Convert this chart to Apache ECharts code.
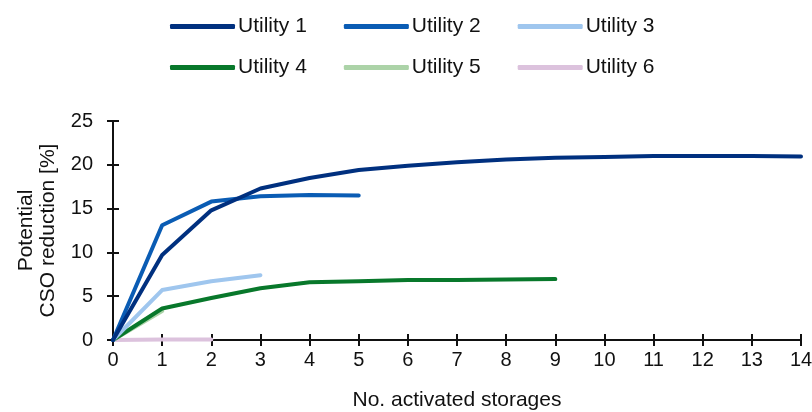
<!DOCTYPE html>
<html><head><meta charset="utf-8">
<script src="https://cdn.jsdelivr.net/npm/echarts@6/dist/echarts.min.js"></script>
<style>html,body{margin:0;padding:0;background:#fff}#c{width:812px;height:412px}</style>
</head><body><div id="c"></div>
<script>
const xValues = [0,1,2,3,4,5,6,7,8,9,10,11,12,13,14];
const seriesNames = ['Utility 1','Utility 2','Utility 3','Utility 4','Utility 5','Utility 6'];
const utility1 = [0,9.7,14.8,17.3,18.5,19.4,19.9,20.3,20.6,20.8,20.9,21.0,21.0,21.0,20.95];
const utility2 = [0,13.1,15.8,16.4,16.55,16.5];
const utility3 = [0,5.7,6.7,7.4];
const utility4 = [0,3.6,4.8,5.9,6.6,6.7,6.85,6.85,6.9,6.95];
const utility5 = [0,3.3];
const utility6 = [0,0.05,0.05];
const colors = ['#00307f','#0a5cb4','#9fc6ee','#08782b','#acd3a8','#dcc2dd'];
const yTicks = [0,5,10,15,20,25];

const allData = [utility1,utility2,utility3,utility4,utility5,utility6];
const FONT = "'Liberation Sans', Arial, sans-serif";
const chart = echarts.init(document.getElementById('c'));
const legendCommon = {
  left: 170, orient: 'horizontal', itemWidth: 65, itemHeight: 5, itemGap: 37, padding: 0,
  icon: 'roundRect',
  textStyle: {fontFamily: FONT, fontSize: 21, color: '#111', padding: [0,0,0,-2]}
};
chart.setOption({
  animation: false,
  color: colors,
  legend: [
    Object.assign({}, legendCommon, {top: 16, data: seriesNames.slice(0,3)}),
    Object.assign({}, legendCommon, {top: 57, data: seriesNames.slice(3,6)})
  ],
  grid: {left: 113, right: 11, top: 121, bottom: 72, containLabel: false, outerBoundsMode: 'none'},
  xAxis: [{
    type: 'value', min: 0, max: 14, interval: 1,
    name: 'No. activated storages', nameLocation: 'middle', nameGap: 50,
    nameTextStyle: {fontFamily: FONT, fontSize: 21, color: '#111'},
    axisLine: {lineStyle: {color: '#111', width: 2}},
    axisTick: {show: true, inside: false, length: 6, lineStyle: {color: '#111', width: 2}},
    axisLabel: {fontFamily: FONT, fontSize: 20, color: '#111', margin: 10},
    splitLine: {show: false}
  },{
    type: 'value', min: 0, max: 14, interval: 1, position: 'bottom',
    axisLine: {show: false},
    axisTick: {show: true, inside: true, length: 6, lineStyle: {color: '#111', width: 2}},
    axisLabel: {show: false}, splitLine: {show: false}
  }],
  yAxis: [{
    type: 'value', min: yTicks[0], max: yTicks[yTicks.length-1], interval: 5,
    name: 'Potential\nCSO reduction [%]', nameLocation: 'middle', nameGap: 54,
    nameTextStyle: {fontFamily: FONT, fontSize: 21, color: '#111', lineHeight: 22},
    axisLine: {show: true, lineStyle: {color: '#111', width: 2}},
    axisTick: {show: true, inside: false, length: 6, lineStyle: {color: '#111', width: 2}},
    axisLabel: {fontFamily: FONT, fontSize: 20, color: '#111', margin: 20},
    splitLine: {show: false}
  },{
    type: 'value', min: 0, max: 25, interval: 5, position: 'left',
    axisLine: {show: false},
    axisTick: {show: true, inside: true, length: 6, lineStyle: {color: '#111', width: 2}},
    axisLabel: {show: false}, splitLine: {show: false}
  }],
  series: allData.map((d, i) => ({
    name: seriesNames[i], type: 'line', showSymbol: false, symbol: 'none',
    data: d.map((v, k) => [xValues[k], v]),
    lineStyle: {width: 4, color: colors[i], cap: 'round', join: 'round'},
    itemStyle: {color: colors[i]},
    z: 10 - i
  }))
});
</script></body></html>
